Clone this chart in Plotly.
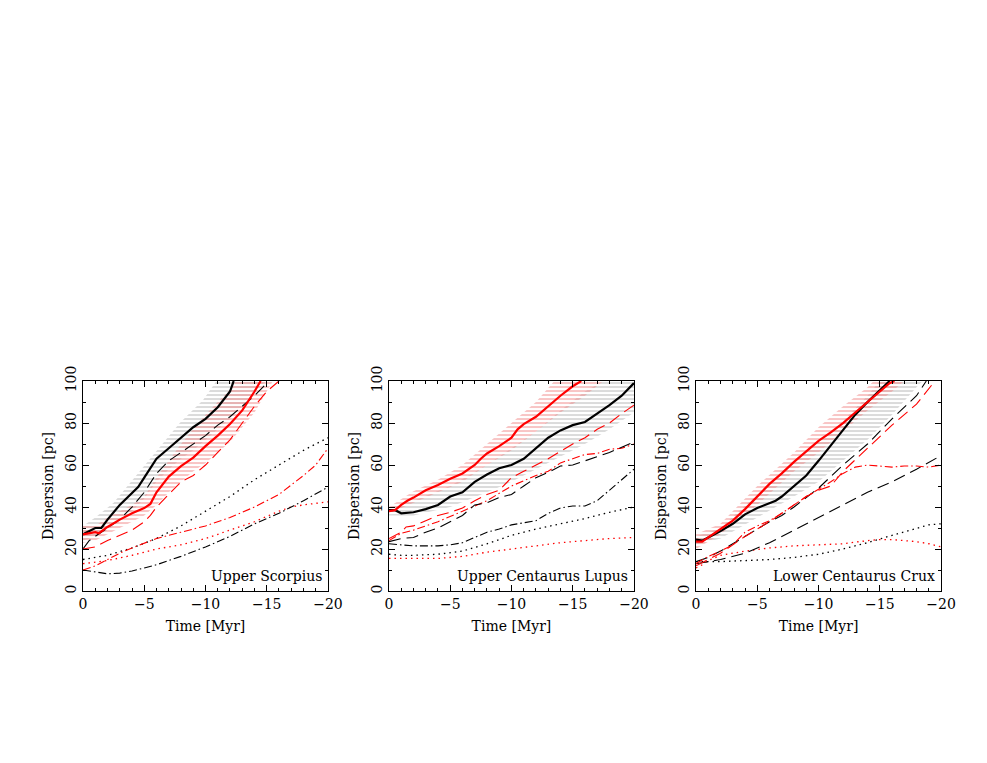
import plotly.graph_objects as go

# =============================================================================
# Data (time in Myr, dispersion in pc)
# =============================================================================

# ---- Upper Scorpius ----
us_black_t = [0, -0.5, -1, -1.5, -2, -3, -4, -4.5, -5, -6, -7, -8, -9, -10, -11, -12, -12.3]
us_black_v = [27, 28.5, 30, 30, 34, 41, 47, 49.5, 54, 63, 68, 73, 78, 82, 87.5, 95, 100]
us_red_t = [0, -0.5, -1, -1.3, -2, -3, -4, -5, -5.5, -6, -7, -8, -9, -10, -11, -12, -13, -14, -14.5]
us_red_v = [27, 27.5, 28, 27.5, 30.5, 34, 37, 39.5, 41.5, 47, 54.5, 59.5, 63.5, 69, 74, 79.5, 86, 95, 100]
us_grey_hi_t = [0, -1, -2.5, -4.9, -7.9, -9.8, -10.9]
us_grey_hi_v = [31, 35, 42, 59, 80, 91, 100]
us_grey_lo_t = [0, -1, -2, -3, -4, -5, -6, -7, -8, -9, -10, -11, -12, -13, -14, -15]
us_grey_lo_v = [24, 26, 29, 33, 38, 44, 52, 58, 63, 67, 72, 77, 82, 88, 95, 100]
us_pink_hi_t = [0, -1, -2, -4, -5, -6, -7, -8, -9, -10, -11, -12, -12.5]
us_pink_hi_v = [31, 31, 35, 41, 45, 54, 62, 70, 77, 84, 90, 96, 100]
us_pink_lo_t = [0, -1, -2, -3, -4, -5, -6, -7, -8, -9, -10, -11, -12, -13, -14, -15, -15.5]
us_pink_lo_v = [23, 24, 27, 30, 33, 36, 41, 47, 52, 57, 61, 66, 71, 78, 85, 95, 100]
us_bdash_t = [0, -0.5, -1, -1.5, -2, -3, -4, -5, -6, -7, -8, -9, -10, -11, -12, -13, -14, -15]
us_bdash_v = [20, 24, 26, 28, 30, 34, 40, 47, 56, 62, 66, 70, 74, 79, 83, 88, 93, 99]
us_rdash_t = [0, -1, -2, -3, -4, -5, -5.5, -6, -6.5, -7, -8, -9, -10, -11, -12, -13, -14, -15, -16]
us_rdash_v = [20, 21, 24, 26.5, 29, 33, 36, 40, 43, 46, 52, 55, 60, 66, 72, 80, 88, 95, 100]
us_bdot_t = [0, -2, -4, -6, -8, -10, -12, -14, -16, -18, -20]
us_bdot_v = [15, 17, 20.5, 25, 31, 38, 45, 53, 60, 67, 73]
us_rdd_t = [0, -1, -2, -3, -4, -6, -8, -10, -12, -14, -16, -18, -19, -20]
us_rdd_v = [10, 12, 15, 18, 20.5, 25, 28, 31, 35, 40, 46, 55, 60, 68]
us_rdot_t = [0, -2, -4, -6, -8, -10, -12, -14, -16, -17, -18, -20]
us_rdot_v = [13, 14.5, 17, 20, 22, 25, 29, 33, 38, 40, 41, 42.5]
us_bdd_t = [0, -1, -2, -3, -4, -5, -6, -8, -10, -12, -14, -16, -18, -20]
us_bdd_v = [10, 9, 8.2, 8.5, 9.5, 11, 12.5, 16.5, 21, 26, 32, 37, 43, 49.5]

# ---- Upper Centaurus Lupus ----
ucl_black_t = [0, -0.5, -1, -2, -3, -4, -5, -6, -7, -8, -9, -10, -11, -12, -13, -14, -15, -16, -17, -18, -19, -20]
ucl_black_v = [38.5, 38.5, 37, 37.5, 39, 41, 45, 47, 52, 55.5, 58.5, 60, 63, 68, 73, 76.5, 79, 80.5, 84.5, 88.5, 93, 99]
ucl_red_t = [0, -0.5, -1, -1.5, -2, -3, -4, -5, -6, -7, -7.5, -8, -9, -10, -10.5, -11, -12, -13, -14, -15, -15.7]
ucl_red_v = [38, 38.5, 41, 43, 44.5, 48, 50.5, 53.5, 56, 60, 63, 65.5, 69, 73, 77, 79.5, 83, 88, 93, 97.5, 100]
ucl_grey_hi_t = [0, -2, -5, -8, -10, -12, -14, -16, -17.5, -20]
ucl_grey_hi_v = [40, 43, 50, 60, 68, 76, 86, 95, 100, 100]
ucl_grey_lo_t = [0, -2, -5, -8, -10, -12, -14, -16, -18, -20]
ucl_grey_lo_v = [36, 36, 40, 47, 52, 58, 64, 70, 77, 85]
ucl_pink_hi_t = [0, -2, -4, -6, -8, -10, -12, -13.5]
ucl_pink_hi_v = [40, 47.5, 53, 60, 70, 80, 90, 100]
ucl_pink_lo_t = [0, -2, -4, -6, -8, -10, -12, -14, -16, -17.5]
ucl_pink_lo_v = [37, 42, 47, 52, 60, 67, 76, 85, 93, 100]
ucl_rdash_t = [0, -1, -1.4, -2, -3, -4, -5, -6, -7, -8, -9, -10, -11, -12, -13, -14, -15, -16, -17, -18, -19, -20]
ucl_rdash_v = [25, 28, 30.5, 31, 33.5, 36, 37.5, 39.5, 43, 46, 48, 54, 57, 60, 63, 66.5, 70, 73, 77, 80, 84.5, 88.5]
ucl_rdd_t = [0, -1, -2, -4, -6, -8, -10, -12, -13, -14, -15, -16, -17, -18, -19, -20]
ucl_rdd_v = [24, 27.5, 29, 33, 38, 43, 50, 55, 57, 61, 63, 65, 65.5, 67.5, 68, 70]
ucl_bdash_t = [0, -1, -2, -3, -4, -5, -6, -7, -8, -9, -10, -11, -12, -13, -14, -15, -16, -17, -18, -19, -20]
ucl_bdash_v = [23.5, 25, 25.5, 28, 30, 33, 36, 41, 42, 44.5, 46, 50, 54, 56.5, 59.5, 60, 62, 64, 66, 68.5, 71]
ucl_bdd_t = [0, -1, -2, -3, -4, -5, -6, -7, -8, -9, -10, -11, -12, -13, -14, -15, -16, -17, -18, -19, -20]
ucl_bdd_v = [22.5, 22, 21.5, 21.5, 21.5, 22, 23, 25.5, 28, 29.5, 31.5, 32.5, 33.5, 37, 39.5, 40.5, 40.5, 43, 48, 53, 58]
ucl_bdot_t = [0, -1, -2, -4, -6, -8, -10, -12, -14, -16, -18, -20]
ucl_bdot_v = [17.5, 17, 17, 17.5, 19, 22.5, 26.5, 29.5, 32, 34.5, 37.5, 40]
ucl_rdot_t = [0, -2, -4, -6, -8, -10, -12, -14, -16, -18, -20]
ucl_rdot_v = [15.5, 15.5, 15.5, 16.5, 18.5, 20, 21.5, 23, 24, 25, 25.5]

# ---- Lower Centaurus Crux ----
lcc_black_t = [0, -0.5, -1, -1.5, -2, -3, -4, -5, -6, -6.5, -7, -8, -9, -10, -11, -12, -13, -14, -15, -15.8]
lcc_black_v = [24.5, 24, 25.5, 27, 28.5, 32, 36.5, 39.5, 42, 43, 45, 50, 55, 62, 69.5, 76.5, 84, 90, 95.5, 100]
lcc_red_t = [0, -0.5, -1, -2, -3, -4, -5, -6, -7, -8, -9, -10, -11, -12, -13, -14, -15, -15.8, -16.2]
lcc_red_v = [23.5, 23.5, 25.5, 29.5, 33.5, 39, 45, 51, 56, 61.5, 66.5, 71.5, 75.5, 80, 85, 90, 95, 99, 100]
lcc_grey_hi_t = [0, -2, -5, -8, -10, -12, -14, -15]
lcc_grey_hi_v = [26, 30, 46, 61, 71, 81, 93, 100]
lcc_grey_lo_t = [0, -2, -5, -8, -10, -12, -14, -16, -18, -18.5]
lcc_grey_lo_v = [22, 25, 35, 45, 52, 62, 72, 84, 97, 100]
lcc_pink_hi_t = [0, -2, -5, -8, -10, -12, -14, -14.5]
lcc_pink_hi_v = [27, 32, 50, 66, 78, 88, 97, 100]
lcc_pink_lo_t = [0, -2, -5, -8, -10, -12, -14, -16, -17]
lcc_pink_lo_v = [20, 27, 41, 57, 66, 76, 86, 95, 100]
lcc_bdash_t = [0, -1, -2, -3, -4, -5, -6, -7, -8, -9, -10, -12, -14, -16, -18, -18.8]
lcc_bdash_v = [14, 16, 19, 22.5, 26, 29.5, 33, 36, 40, 44.5, 49, 60, 70, 82, 93, 100]
lcc_rdash_t = [0, -1, -2, -4, -6, -8, -9, -10, -11, -12, -14, -16, -18, -19.5]
lcc_rdash_v = [12, 15, 18, 26, 33, 41, 45, 48, 50, 57, 68, 79, 89, 100]
lcc_rdd_t = [0, -1, -2, -3, -4, -5, -6, -7, -8, -9, -10, -11, -12, -13, -14, -15, -16, -17, -18, -19, -20]
lcc_rdd_v = [13, 16.5, 19, 22, 28, 31, 33.5, 37, 41, 45, 48.5, 52, 56, 59, 60, 59.5, 59, 59.5, 59.5, 59, 60]
lcc_bdash2_t = [0, -2, -4, -6, -8, -10, -12, -14, -16, -18, -20]
lcc_bdash2_v = [13, 15, 18, 23, 29, 35, 41, 47, 52, 58, 64.5]
lcc_bdot_t = [0, -2, -4, -6, -8, -10, -12, -14, -16, -18, -19, -20]
lcc_bdot_v = [14, 14, 14.5, 15, 16, 17.5, 20, 23, 26.5, 30, 31.5, 32]
lcc_rdot_t = [0, -0.5, -1, -2, -4, -6, -8, -10, -12, -14, -15, -16, -17, -18, -19, -20]
lcc_rdot_v = [11, 12.5, 14.5, 17, 19, 20.5, 21.5, 22, 22.5, 24, 24.5, 24.5, 24, 23.5, 22.5, 21]

panel_names = ["Upper Scorpius", "Upper Centaurus Lupus", "Lower Centaurus Crux"]

# =============================================================================
# Styles
# =============================================================================
FONT = "DejaVu Serif"
RED = "#ff0000"
GREY_HATCH = "#b8b8b8"
PINK_HATCH = "#f28c8c"

DASH = "12px,6px"
DASHDOT = "8px,3px,1.5px,3px"
DOT = "1.5px,4px"

# page body has an 8px margin, so domains are shifted to compensate
X_DOMAINS = [[0.0760, 0.3242], [0.3860, 0.6342], [0.6971, 0.9453]]
Y_DOMAIN = [0.2359, 0.5111]

fig = go.Figure()


def add_band(k, hi_t, hi_v, lo_t, lo_v, color):
    xs = list(hi_t) + list(reversed(lo_t))
    ys = list(hi_v) + list(reversed(lo_v))
    fig.add_trace(go.Scatter(
        x=xs, y=ys, mode='lines', fill='toself',
        line=dict(width=0), fillcolor='rgba(0,0,0,0)',
        fillpattern=dict(shape='-', fgcolor=color, bgcolor='rgba(0,0,0,0)',
                         size=4, solidity=0.5),
        hoverinfo='skip', showlegend=False,
        xaxis=f'x{k}' if k > 1 else 'x', yaxis=f'y{k}' if k > 1 else 'y'
    ))


def add_line(k, t, v, color, width, dash='solid'):
    fig.add_trace(go.Scatter(
        x=t, y=v, mode='lines',
        line=dict(color=color, width=width, dash=dash),
        showlegend=False,
        xaxis=f'x{k}' if k > 1 else 'x', yaxis=f'y{k}' if k > 1 else 'y'
    ))


# ---- Panel 1 ----
add_band(1, us_grey_hi_t, us_grey_hi_v, us_grey_lo_t, us_grey_lo_v, GREY_HATCH)
add_band(1, us_pink_hi_t, us_pink_hi_v, us_pink_lo_t, us_pink_lo_v, PINK_HATCH)
add_line(1, us_bdot_t, us_bdot_v, 'black', 1.3, DOT)
add_line(1, us_rdot_t, us_rdot_v, RED, 1.3, DOT)
add_line(1, us_bdd_t, us_bdd_v, 'black', 1.1, DASHDOT)
add_line(1, us_rdd_t, us_rdd_v, RED, 1.1, DASHDOT)
add_line(1, us_bdash_t, us_bdash_v, 'black', 1.1, DASH)
add_line(1, us_rdash_t, us_rdash_v, RED, 1.1, DASH)
add_line(1, us_black_t, us_black_v, 'black', 2.2)
add_line(1, us_red_t, us_red_v, RED, 2.2)

# ---- Panel 2 ----
add_band(2, ucl_grey_hi_t, ucl_grey_hi_v, ucl_grey_lo_t, ucl_grey_lo_v, GREY_HATCH)
add_band(2, ucl_pink_hi_t, ucl_pink_hi_v, ucl_pink_lo_t, ucl_pink_lo_v, PINK_HATCH)
add_line(2, ucl_bdot_t, ucl_bdot_v, 'black', 1.3, DOT)
add_line(2, ucl_rdot_t, ucl_rdot_v, RED, 1.3, DOT)
add_line(2, ucl_bdd_t, ucl_bdd_v, 'black', 1.1, DASHDOT)
add_line(2, ucl_rdd_t, ucl_rdd_v, RED, 1.1, DASHDOT)
add_line(2, ucl_bdash_t, ucl_bdash_v, 'black', 1.1, DASH)
add_line(2, ucl_rdash_t, ucl_rdash_v, RED, 1.1, DASH)
add_line(2, ucl_black_t, ucl_black_v, 'black', 2.2)
add_line(2, ucl_red_t, ucl_red_v, RED, 2.2)

# ---- Panel 3 ----
add_band(3, lcc_grey_hi_t, lcc_grey_hi_v, lcc_grey_lo_t, lcc_grey_lo_v, GREY_HATCH)
add_band(3, lcc_pink_hi_t, lcc_pink_hi_v, lcc_pink_lo_t, lcc_pink_lo_v, PINK_HATCH)
add_line(3, lcc_bdot_t, lcc_bdot_v, 'black', 1.3, DOT)
add_line(3, lcc_rdot_t, lcc_rdot_v, RED, 1.3, DOT)
add_line(3, lcc_bdash2_t, lcc_bdash2_v, 'black', 1.1, DASH)
add_line(3, lcc_bdash_t, lcc_bdash_v, 'black', 1.1, DASH)
add_line(3, lcc_rdd_t, lcc_rdd_v, RED, 1.1, DASHDOT)
add_line(3, lcc_rdash_t, lcc_rdash_v, RED, 1.1, DASH)
add_line(3, lcc_black_t, lcc_black_v, 'black', 2.2)
add_line(3, lcc_red_t, lcc_red_v, RED, 2.2)

# =============================================================================
# Axes
# =============================================================================
axis_common = dict(
    showline=True, linecolor='black', linewidth=1.3, mirror='allticks',
    ticks='inside', ticklen=6, tickwidth=1, tickcolor='black',
    showgrid=False, zeroline=False, automargin=False,
    tickfont=dict(family=FONT, size=14, color='black'),
)

layout_axes = {}
for i, name in enumerate(panel_names):
    k = i + 1
    xa = 'xaxis' if k == 1 else f'xaxis{k}'
    ya = 'yaxis' if k == 1 else f'yaxis{k}'
    anchor_x = 'y' if k == 1 else f'y{k}'
    anchor_y = 'x' if k == 1 else f'x{k}'
    layout_axes[xa] = dict(
        axis_common, domain=X_DOMAINS[i], anchor=anchor_x,
        range=[0, -20], tickmode='linear', tick0=0, dtick=5,
        minor=dict(dtick=1, ticklen=3, ticks='inside', tickcolor='black', showgrid=False),
        title=dict(text='Time [Myr]', font=dict(family=FONT, size=14, color='black'), standoff=10),
    )
    layout_axes[ya] = dict(
        axis_common, domain=Y_DOMAIN, anchor=anchor_y,
        range=[0, 100], tickmode='linear', tick0=0, dtick=20, tickangle=-90,
        minor=dict(dtick=10, ticklen=3, ticks='inside', tickcolor='black', showgrid=False),
        title=dict(text='Dispersion [pc]', font=dict(family=FONT, size=14, color='black'), standoff=6),
    )
    fig.add_annotation(
        text=name, xref=f'{anchor_y} domain', yref=f'{anchor_x} domain',
        x=0.985, y=0.025, xanchor='right', yanchor='bottom', showarrow=False,
        font=dict(family=FONT, size=14, color='black'),
    )

fig.update_layout(
    **layout_axes,
    width=987, height=763, autosize=False,
    margin=dict(l=0, r=0, t=0, b=0),
    paper_bgcolor='white', plot_bgcolor='white',
    showlegend=False,
)

fig.write_html("out.html")
